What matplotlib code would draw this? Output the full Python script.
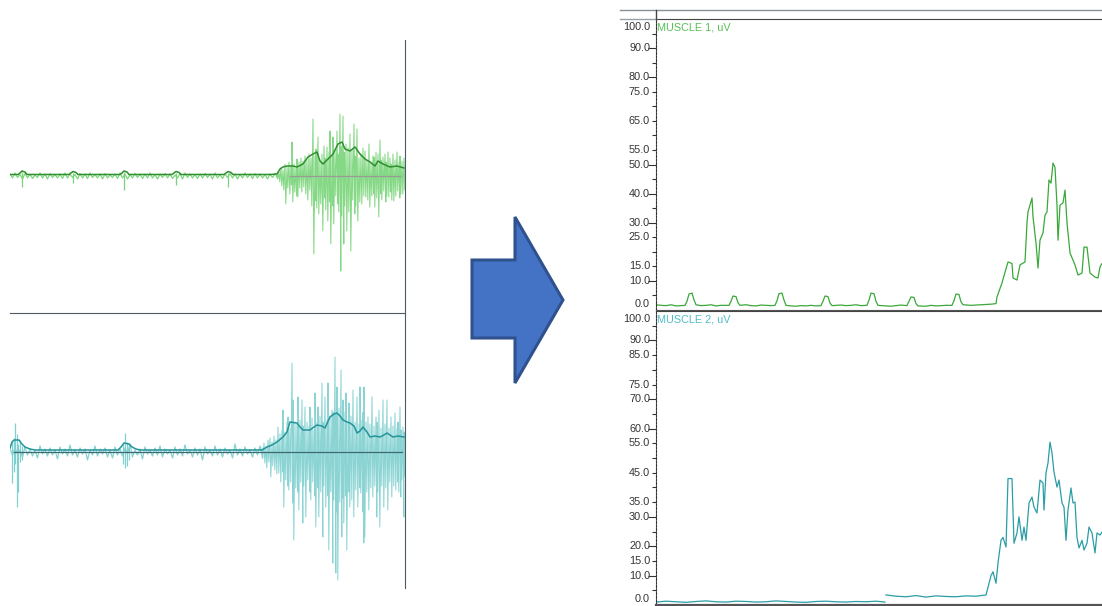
import numpy as np
import matplotlib
matplotlib.use("Agg")
import matplotlib.pyplot as plt
from matplotlib.lines import Line2D
from matplotlib.patches import Polygon
from matplotlib.transforms import blended_transform_factory, offset_copy

W, H = 1102, 606

# ---- raw EMG, muscle 1 (left, top) ----
# quiet part: one hi/lo pair every 0.05 s
raw1_quiet_hi = [2, 3, 1.5, 2.5, 2, 1, 3, 2, 2.5, 1.5,
                 2, 3, 2, 1.5, 2.5, 2, 3, 1.5, 2, 2.5,
                 1, 2, 3, 2, 1.5, 2.5, 2, 2, 3, 1.5,
                 2, 2.5, 2, 1, 2.5, 3, 2, 1.5, 2, 2.5,
                 2, 3, 1.5, 2, 2.5, 2, 1.5, 3, 2, 2.5,
                 2, 1.5, 2, 2.5]
raw1_quiet_lo = [-2, -1.5, -3, -2, -2.5, -1.5, -2, -3, -1.5, -2,
                 -2.5, -2, -1.5, -3, -2, -2.5, -1.5, -2, -3, -2,
                 -1.5, -2.5, -2, -3, -2, -1.5, -2.5, -2, -2, -3,
                 -1.5, -2, -2.5, -2, -3, -1.5, -2, -2.5, -2, -1.5,
                 -3, -2, -2.5, -1.5, -2, -3, -2, -1.5, -2.5, -2,
                 -2, -3, -1.5, -2]
raw1_event_t = [0.12, 0.63, 1.14, 1.66, 2.18]
raw1_event_hi = [4, 3, 4, 3, 3]
raw1_event_lo = [-11, -7, -14, -9, -11]
raw1_burst_t = [2.67, 2.69, 2.71, 2.73, 2.75, 2.77, 2.79, 2.81, 2.82, 2.84,
                2.86, 2.87, 2.89, 2.91, 2.93, 2.95, 2.97, 2.99, 3.01, 3.03,
                3.05, 3.06, 3.08, 3.10, 3.12, 3.14, 3.15, 3.17, 3.19, 3.20,
                3.22, 3.23, 3.25, 3.27, 3.28, 3.30, 3.31, 3.33, 3.34, 3.36,
                3.38, 3.40, 3.42, 3.44, 3.45, 3.47, 3.49, 3.51, 3.53, 3.55,
                3.57, 3.59, 3.61, 3.63, 3.64, 3.66, 3.68, 3.70, 3.71, 3.73,
                3.75, 3.76, 3.78, 3.80, 3.81, 3.83, 3.85, 3.87, 3.89, 3.90,
                3.92, 3.94]
raw1_burst_hi = [2, 4, 8, 6, 12, 9, 14, 10, 34, 12,
                 8, 17, 14, 18, 15, 20, 16, 22, 18, 57,
                 20, 27, 39, 16, 22, 30, 18, 29, 24, 45,
                 20, 39, 26, 45, 22, 62, 30, 60, 24, 32,
                 28, 42, 26, 52, 20, 47, 18, 22, 28, 25,
                 16, 32, 14, 20, 19, 24, 22, 36, 16, 19,
                 22, 14, 24, 18, 12, 22, 16, 24, 14, 20,
                 15, 18]
raw1_burst_lo = [-3, -6, -10, -14, -28, -12, -18, -9, -26, -16,
                 -20, -21, -12, -16, -11, -18, -24, -14, -30, -78,
                 -25, -32, -38, -28, -55, -22, -34, -45, -26, -68,
                 -30, -48, -20, -28, -36, -95, -40, -68, -30, -55,
                 -36, -75, -24, -38, -30, -45, -26, -28, -20, -21,
                 -24, -31, -20, -18, -31, -22, -41, -18, -24, -15,
                 -26, -20, -21, -16, -24, -25, -20, -15, -22, -18,
                 -18, -14]
env1_t = [0.00, 0.08, 0.10, 0.12, 0.15, 0.17, 0.59, 0.61, 0.63, 0.66,
          0.68, 1.10, 1.12, 1.14, 1.17, 1.19, 1.62, 1.64, 1.66, 1.69,
          1.71, 2.14, 2.16, 2.18, 2.21, 2.23, 2.60, 2.67, 2.70, 2.73,
          2.77, 2.83, 2.87, 2.93, 2.98, 3.03, 3.07, 3.10, 3.13, 3.18,
          3.23, 3.28, 3.32, 3.35, 3.40, 3.45, 3.50, 3.55, 3.60, 3.65,
          3.68, 3.73, 3.80, 3.87, 3.94]
env1_v = [1.5, 1.5, 3, 5, 4, 1.5, 1.5, 3, 4.5, 3.5,
          1.5, 1.5, 3, 5, 4, 1.5, 1.5, 3, 4.5, 3.5,
          1.5, 1.5, 3, 4.5, 3.5, 1.5, 1.5, 2, 7, 9,
          10, 10, 9, 12, 19, 22, 24, 15, 12, 17,
          22, 32, 34, 27, 25, 29, 22, 17, 14, 10,
          15, 12, 9, 10, 8]

# ---- raw EMG, muscle 2 (left, bottom) ----
raw2_quiet_hi = [3, 4, 2, 5, 3, 2, 6, 3, 4, 2,
                 5, 3, 7, 2, 4, 3, 2, 6, 3, 4,
                 2, 5, 3, 4, 8, 2, 3, 5, 2, 4,
                 6, 3, 2, 5, 3, 7, 2, 4, 3, 5,
                 2, 6, 3, 4, 2, 8, 3, 5, 2, 4,
                 6]
raw2_quiet_lo = [-3, -2, -5, -3, -4, -6, -2, -4, -3, -7,
                 -2, -4, -3, -5, -2, -8, -3, -4, -2, -5,
                 -6, -3, -4, -2, -5, -3, -7, -2, -4, -3,
                 -5, -2, -6, -3, -4, -2, -5, -3, -8, -2,
                 -4, -3, -5, -2, -6, -3, -4, -2, -5, -3,
                 -6]
raw2_event_t = [0.02, 0.04, 0.05, 0.07, 0.08, 0.10, 0.12, 1.13, 1.15, 1.17, 1.19]
raw2_event_hi = [10, 14, 29, 18, 8, 12, 6, 8, 19, 10, 6]
raw2_event_lo = [-31, -20, -12, -55, -40, -10, -8, -12, -16, -14, -8]
raw2_burst_t = [2.52, 2.54, 2.56, 2.58, 2.60, 2.62, 2.64, 2.66, 2.68, 2.70,
                2.72, 2.73, 2.75, 2.77, 2.78, 2.80, 2.82, 2.83, 2.85, 2.87,
                2.88, 2.90, 2.92, 2.93, 2.95, 2.97, 2.99, 3.00, 3.02, 3.04,
                3.05, 3.07, 3.08, 3.10, 3.12, 3.13, 3.15, 3.17, 3.18, 3.20,
                3.22, 3.23, 3.25, 3.26, 3.27, 3.29, 3.31, 3.32, 3.33, 3.35,
                3.36, 3.38, 3.39, 3.41, 3.43, 3.45, 3.47, 3.49, 3.50, 3.52,
                3.53, 3.54, 3.56, 3.58, 3.60, 3.62, 3.64, 3.66, 3.67, 3.69,
                3.71, 3.73, 3.75, 3.77, 3.79, 3.81, 3.83, 3.85, 3.87, 3.88,
                3.90, 3.91, 3.93, 3.94]
raw2_burst_hi = [4, 9, 6, 12, 14, 10, 16, 12, 25, 18,
                 22, 42, 20, 30, 35, 24, 89, 52, 30, 28,
                 55, 32, 52, 26, 45, 30, 26, 45, 34, 22,
                 59, 30, 45, 36, 69, 30, 55, 32, 69, 36,
                 42, 40, 95, 38, 65, 44, 82, 34, 52, 40,
                 59, 30, 49, 36, 62, 30, 55, 28, 65, 32,
                 40, 65, 30, 35, 28, 55, 26, 35, 30, 42,
                 24, 52, 28, 52, 24, 35, 26, 39, 24, 30,
                 45, 22, 25, 20]
raw2_burst_lo = [-6, -11, -16, -10, -25, -14, -18, -22, -21, -30,
                 -20, -55, -28, -34, -38, -30, -51, -88, -36, -40,
                 -58, -30, -71, -34, -65, -28, -40, -48, -30, -44,
                 -75, -36, -65, -40, -85, -34, -55, -44, -98, -40,
                 -111, -48, -121, -60, -128, -50, -85, -46, -71, -44,
                 -98, -40, -55, -48, -65, -38, -55, -36, -41, -60,
                 -91, -85, -40, -58, -36, -45, -34, -65, -40, -75,
                 -34, -55, -36, -58, -30, -45, -34, -38, -30, -40,
                 -45, -28, -65, -24]
env2_t = [0.00, 0.02, 0.04, 0.09, 0.11, 0.15, 0.20, 0.25, 1.08, 1.11,
          1.14, 1.19, 1.22, 1.26, 1.30, 2.52, 2.57, 2.62, 2.67, 2.73,
          2.77, 2.80, 2.87, 2.90, 2.93, 3.00, 3.04, 3.07, 3.12, 3.15,
          3.20, 3.24, 3.27, 3.30, 3.33, 3.37, 3.40, 3.44, 3.47, 3.50,
          3.53, 3.57, 3.60, 3.65, 3.70, 3.74, 3.77, 3.80, 3.83, 3.88,
          3.94]
env2_v = [4, 10, 12, 12, 9, 5, 3, 2, 2, 5,
          9, 8, 5, 3, 2, 2, 5, 7, 10, 15,
          20, 30, 29, 25, 22, 22, 25, 27, 26, 24,
          35, 38, 39, 36, 32, 30, 29, 26, 19, 21,
          25, 20, 15, 16, 15, 17, 19, 17, 15, 16,
          15]

# ---- processed envelopes, uV (right) ----
m1_t = [0.00, 0.05, 0.10, 0.15, 0.20, 0.25, 0.29, 0.31, 0.33, 0.36,
        0.38, 0.40, 0.45, 0.50, 0.55, 0.60, 0.65, 0.73, 0.75, 0.77,
        0.80, 0.82, 0.84, 0.90, 0.95, 1.00, 1.05, 1.10, 1.15, 1.19,
        1.21, 1.23, 1.26, 1.28, 1.30, 1.35, 1.40, 1.45, 1.50, 1.55,
        1.60, 1.65, 1.67, 1.69, 1.72, 1.74, 1.76, 1.85, 1.90, 1.95,
        2.00, 2.05, 2.11, 2.13, 2.15, 2.18, 2.20, 2.22, 2.30, 2.35,
        2.40, 2.45, 2.51, 2.53, 2.55, 2.58, 2.60, 2.62, 2.70, 2.75,
        2.80, 2.85, 2.90, 2.96, 2.98, 3.00, 3.03, 3.05, 3.07, 3.15,
        3.20, 3.25, 3.30, 3.35, 3.40, 3.41, 3.46, 3.49, 3.52, 3.56,
        3.57, 3.61, 3.64, 3.69, 3.71, 3.72, 3.76, 3.77, 3.80, 3.82,
        3.84, 3.87, 3.89, 3.91, 3.93, 3.95, 3.97, 3.99, 4.01, 4.02,
        4.04, 4.07, 4.09, 4.11, 4.14, 4.19, 4.22, 4.26, 4.28, 4.31,
        4.34, 4.39, 4.42, 4.44, 4.46, 4.50]
m1_v = [1.8, 1.6, 1.5, 1.8, 1.4, 1.5, 1.6, 3.0, 5.5, 5.8,
        3.5, 1.8, 1.5, 1.6, 1.8, 1.4, 1.6, 1.6, 3.0, 4.8,
        4.6, 2.5, 1.6, 1.8, 1.5, 1.4, 1.7, 1.6, 1.5, 1.6,
        3.2, 5.6, 5.8, 3.4, 1.6, 1.4, 1.3, 1.5, 1.4, 1.6,
        1.4, 1.5, 3.0, 4.8, 4.6, 2.4, 1.5, 1.7, 1.5, 1.6,
        1.8, 1.5, 1.6, 3.4, 5.8, 5.6, 3.0, 1.6, 1.4, 1.3,
        1.5, 1.7, 1.5, 3.0, 4.5, 4.3, 2.2, 1.4, 1.3, 1.6,
        1.4, 1.5, 1.6, 1.6, 3.2, 5.5, 5.3, 2.8, 1.8, 1.6,
        1.7, 1.8, 1.9, 2.0, 2.2, 4.5, 9.3, 13.0, 16.5, 16.0,
        11.0, 10.3, 15.5, 16.5, 30.0, 33.7, 38.5, 32.0, 23.0, 14.4,
        24.0, 26.5, 32.6, 33.7, 44.7, 43.6, 50.5, 49.0, 36.0, 24.0,
        36.0, 36.8, 41.2, 30.0, 19.6, 15.5, 12.0, 12.7, 21.6, 21.6,
        12.7, 11.3, 11.0, 14.8, 16.0, 15.0]

# muscle 2 has a short dropout at 2.295 s (NaN splits the trace)
m2_t = [0.00, 0.10, 0.20, 0.30, 0.40, 0.50, 0.60, 0.70, 0.80, 0.90,
        1.00, 1.10, 1.20, 1.30, 1.40, 1.50, 1.60, 1.70, 1.80, 1.90,
        2.00, 2.10, 2.20, 2.29, 2.295, 2.30, 2.40, 2.50, 2.60, 2.70,
        2.80, 2.90, 3.00, 3.10, 3.20, 3.30, 3.32, 3.35, 3.37, 3.40,
        3.42, 3.45, 3.47, 3.50, 3.52, 3.56, 3.58, 3.61, 3.63, 3.66,
        3.68, 3.70, 3.73, 3.76, 3.78, 3.81, 3.84, 3.87, 3.88, 3.90,
        3.92, 3.94, 3.96, 3.98, 4.01, 4.03, 4.06, 4.08, 4.10, 4.12,
        4.15, 4.17, 4.19, 4.21, 4.23, 4.26, 4.28, 4.31, 4.33, 4.36,
        4.39, 4.41, 4.44, 4.46, 4.50]
m2_v = [1.0, 1.3, 1.1, 0.9, 1.2, 1.4, 1.1, 1.0, 1.3, 1.2,
        1.0, 1.1, 1.4, 1.2, 1.0, 0.9, 1.2, 1.3, 1.1, 1.0,
        1.2, 1.1, 1.3, 1.0, np.nan, 3.4, 3.0, 2.8, 3.2, 2.7,
        3.1, 2.9, 2.8, 3.1, 3.0, 3.4, 6.0, 10.0, 11.3, 7.4,
        14.3, 22.0, 23.0, 19.7, 43.0, 43.0, 21.0, 24.5, 30.0, 22.0,
        26.5, 22.0, 34.7, 36.7, 33.3, 31.3, 42.5, 41.5, 32.3, 44.9,
        48.3, 55.4, 51.7, 45.2, 40.1, 42.5, 34.7, 33.3, 22.0, 32.3,
        39.8, 34.7, 35.0, 23.0, 19.4, 22.0, 18.7, 21.0, 26.5, 24.5,
        17.7, 24.5, 23.8, 24.8, 24.0]

# right-axis tick labels (values shown as text)
m1_labels = [100, 90, 80, 75, 65, 55, 50, 40, 30, 25, 15, 10, 0]
m2_labels = [100, 90, 85, 75, 70, 60, 55, 45, 35, 30, 20, 15, 10, 0]


def rect(x0, y0, x1, y1):
    return [x0 / W, 1 - y1 / H, (x1 - x0) / W, (y1 - y0) / H]


def zigzag(t, hi, lo, dt):
    t = np.asarray(t, dtype=float)
    tt = np.empty(2 * len(t))
    vv = np.empty(2 * len(t))
    tt[0::2] = t
    tt[1::2] = t + dt
    vv[0::2] = hi
    vv[1::2] = lo
    return tt, vv


def raw_panel(ax, quiet_hi, quiet_lo, ev, burst, env_t, env_v, raw_col, env_col, base_col, base_span):
    ax.patch.set_visible(False)
    qt = np.arange(len(quiet_hi)) * 0.05
    tt, vv = zigzag(qt, quiet_hi, quiet_lo, 0.025)
    ax.plot(tt, vv, color=raw_col, lw=0.9, alpha=0.95, zorder=2)
    ax.vlines(ev[0], ev[2], ev[1], color=raw_col, lw=0.9, zorder=2)
    tt, vv = zigzag(burst[0], burst[1], burst[2], 0.008)
    ax.plot(tt, vv, color=raw_col, lw=0.75, alpha=0.9, zorder=2)
    ax.plot(base_span, [0, 0], color=base_col, lw=0.9, zorder=3)
    ax.plot(env_t, env_v, color=env_col, lw=1.1, zorder=4)
    ax.set_xlim(0, 3.95)
    ax.set_xticks([])
    ax.set_yticks([])
    for s in ["top", "left"]:
        ax.spines[s].set_visible(False)
    ax.spines["right"].set_color("#4d5a68")
    ax.spines["bottom"].set_color("#4d5a68")


def env_panel(ax, t, v, labels, line_col, title, title_col):
    ax.patch.set_visible(False)
    ax.plot(t, v, color=line_col, lw=0.9)
    ax.set_xlim(0, 4.46)
    ax.set_ylim(0, 100)
    ax.set_xticks([])
    major = [x for x in labels if x % 10 == 0 and 0 < x < 100]
    minor = [x for x in range(5, 100, 5) if x not in major]
    ax.set_yticks(major)
    ax.set_yticks(minor, minor=True)
    ax.set_yticklabels([])
    ax.tick_params(axis="y", which="major", length=6, width=0.8, color="#333333")
    ax.tick_params(axis="y", which="minor", length=3, width=0.8, color="#333333")
    ax.spines["right"].set_visible(False)
    ax.spines["left"].set_linestyle((0, (2, 1.2)))
    ax.spines["left"].set_color("#333333")
    ax.spines["top"].set_color("#444444")
    ax.spines["bottom"].set_color("#555555")

    tr = blended_transform_factory(ax.transAxes, ax.transData)
    xl = -6 / 446
    style = dict(fontsize=7.8, color="#333333", family="Liberation Sans")
    for val in labels:
        if val == 100:
            ax.text(xl, val, "100.0", transform=offset_copy(tr, fig=ax.figure, y=-3, units="dots"),
                    ha="right", va="top", **style)
        elif val == 0:
            ax.text(xl, val, "0.0", transform=offset_copy(tr, fig=ax.figure, y=1, units="dots"),
                    ha="right", va="bottom", **style)
        else:
            ax.text(xl, val, f"{val:.1f}", transform=tr, ha="right", va="center", **style)
    ax.text(0.002, 100, title, transform=offset_copy(tr, fig=ax.figure, y=-3, units="dots"),
            ha="left", va="top", fontsize=7.8, color=title_col, family="Liberation Sans")


fig = plt.figure(figsize=(W / 100, H / 100), dpi=100)

ax_raw2 = fig.add_axes(rect(10, 313, 405, 588))
ax_raw2.set_ylim(-136, 139)
raw_panel(ax_raw2, raw2_quiet_hi, raw2_quiet_lo,
          (raw2_event_t, raw2_event_hi, raw2_event_lo),
          (raw2_burst_t, raw2_burst_hi, raw2_burst_lo),
          env2_t, env2_v, "#80d0d0", "#23949a", "#3d6a72", [0.04, 3.92])
ax_raw2.spines["bottom"].set_visible(False)

ax_raw1 = fig.add_axes(rect(10, 40, 405, 313))
ax_raw1.set_ylim(-137, 136)
raw_panel(ax_raw1, raw1_quiet_hi, raw1_quiet_lo,
          (raw1_event_t, raw1_event_hi, raw1_event_lo),
          (raw1_burst_t, raw1_burst_hi, raw1_burst_lo),
          env1_t, env1_v, "#78d478", "#2f8f2f", "#9a9a9a", [2.80, 3.90])
ax_raw1.spines["bottom"].set_zorder(5)

ax_m1 = fig.add_axes(rect(656, 19, 1102, 310))
env_panel(ax_m1, m1_t, m1_v, m1_labels, "#3aa83a", "MUSCLE 1, uV", "#55c055")

ax_m2 = fig.add_axes(rect(656, 311, 1102, 605))
env_panel(ax_m2, m2_t, m2_v, m2_labels, "#2a9da5", "MUSCLE 2, uV", "#50bcc6")
ax_m2.spines["bottom"].set_linewidth(1.6)

# header rule above the right-hand plot
fig.add_artist(Line2D([620 / W, 1], [1 - 10 / H, 1 - 10 / H], color="#8a9099", lw=1.0))
fig.add_artist(Line2D([620 / W, 656 / W], [1 - 19 / H, 1 - 19 / H], color="#9aa0a8", lw=1.0))
fig.add_artist(Line2D([656 / W, 656 / W], [1 - 10 / H, 1 - 19 / H], color="#444444", lw=1.0))

# block arrow between the two views
arrow_pts = [(472, 260), (515, 260), (515, 217), (563, 300), (515, 383), (515, 338), (472, 338)]
fig.add_artist(Polygon([(x / W, 1 - y / H) for x, y in arrow_pts], closed=True,
                       facecolor="#4472c4", edgecolor="#2f528f", lw=2.2,
                       transform=fig.transFigure))

fig.savefig("out.png", dpi=100)
